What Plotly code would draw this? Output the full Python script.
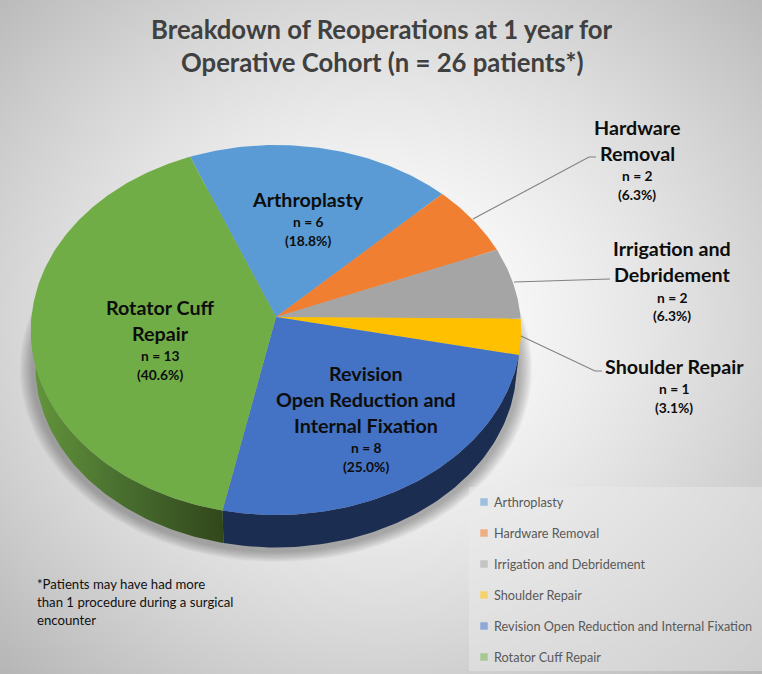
import numpy as np
import plotly.graph_objects as go

# ---- data ----
categories = ["Arthroplasty", "Hardware Removal", "Irrigation and Debridement",
              "Shoulder Repair", "Revision Open Reduction and Internal Fixation",
              "Rotator Cuff Repair"]
counts = [6, 2, 2, 1, 8, 13]
percent_labels = ["(18.8%)", "(6.3%)", "(6.3%)", "(3.1%)", "(25.0%)", "(40.6%)"]
colors = ["#5B9BD5", "#F07F31", "#A5A5A5", "#FFC000", "#4472C4", "#70AD47"]
label_lines = [["Arthroplasty"], ["Hardware", "Removal"], ["Irrigation and", "Debridement"],
               ["Shoulder Repair"], ["Revision", "Open Reduction and", "Internal Fixation"],
               ["Rotator Cuff", "Repair"]]
title_lines = ["Breakdown of Reoperations at 1 year for", "Operative Cohort (n = 26 patients*)"]
footnote_lines = ["*Patients may have had more", "than 1 procedure during a surgical", "encounter"]

# ---- layout of the tilted pie (pixel axes) ----
W, H = 762, 674
FONT = "Lato"
CX, CY, A, B, P = 276.0, 317.0, 244.5, 184.1, 0.0703
START = -22.0
WALL_DY, WALL_K = 36.0, 0.982


def rim(phi_deg, k=1.0, dy=0.0):
    p = np.radians(phi_deg)
    d = 1 + P * np.cos(p)
    return CX + k * A * np.sin(p) / d, CY + dy + k * B * np.cos(p) / d * -1


total = sum(counts)
edges = START + 360.0 * np.concatenate([[0], np.cumsum(counts)]) / total

fig = go.Figure()

# background
gx = np.linspace(0, W, 61)
gy = np.linspace(0, H, 55)
XX, YY = np.meshgrid(gx, gy)
t = np.sqrt(((XX - 381) / 381) ** 2 + ((YY - 320) / 337) ** 2)
fig.add_trace(go.Heatmap(x=gx, y=gy, z=255 - 43 * t ** 1.45, zmin=0, zmax=255, zsmooth="best",
                         colorscale=[[0, "#000000"], [1, "#ffffff"]], showscale=False, hoverinfo="skip"))

# soft shadow
for i in range(12):
    grow = 1.045 - i * 0.0045
    ph = np.linspace(0, 360, 181)
    sx, sy = rim(ph, k=grow, dy=WALL_DY + 2)
    fig.add_trace(go.Scatter(x=sx, y=sy, mode="lines", fill="toself", fillcolor="rgba(60,60,60,0.035)",
                             line=dict(width=0), hoverinfo="skip", showlegend=False))

# walls
def wall(a0, a1, **kw):
    ph = np.linspace(a0, a1, 80)
    ux, uy = rim(ph)
    lx, ly = rim(ph[::-1], k=WALL_K, dy=WALL_DY)
    fig.add_trace(go.Scatter(x=np.r_[ux, lx], y=np.r_[uy, ly], mode="lines", fill="toself",
                             line=dict(width=0), hoverinfo="skip", showlegend=False, **kw))


wall(edges[4], edges[5], fillcolor="#1B2D50")
wall(edges[5], 270.0, fillgradient=dict(type="horizontal",
     colorscale=[[0, "#64963B"], [0.45, "#4A7030"], [1, "#31471B"]]))

# top surface
for i, c in enumerate(categories):
    ph = np.linspace(edges[i], edges[i + 1], max(8, int(counts[i] * 16)))
    ex, ey = rim(ph)
    fig.add_trace(go.Scatter(x=np.r_[CX, ex, CX], y=np.r_[CY, ey, CY], mode="lines", fill="toself",
                             fillcolor=colors[i], line=dict(width=0), name=c, hoverinfo="name",
                             showlegend=False))

# leader lines
leaders = [([473, 589, 596], [219, 157, 157]),
           ([514, 610], [282, 279]),
           ([521, 595, 602], [336, 371, 371])]
for lx, ly in leaders:
    fig.add_trace(go.Scatter(x=lx, y=ly, mode="lines", line=dict(color="#808080", width=1.1),
                             hoverinfo="skip", showlegend=False))

# legend panel + legend
fig.add_shape(type="rect", x0=469, x1=W, y0=487, y1=671, line_width=0,
              fillcolor="rgba(235,235,235,0.45)", layer="above")
legend_y = [502, 533, 564, 595, 626, 657]
for i, c in enumerate(categories):
    fig.add_trace(go.Scatter(x=[484], y=[legend_y[i]], mode="markers",
                             marker=dict(symbol="square", size=7.5, color=colors[i]),
                             hoverinfo="skip", showlegend=False))
    fig.add_annotation(x=491.5, y=legend_y[i], text=c, showarrow=False, xanchor="left",
                       font=dict(family=FONT, size=12.7, color="#595959"))


def text(x, y, s, size, bold=True, color="#0d0d0d", anchor="center"):
    fig.add_annotation(x=x, y=y, text=f"<b>{s}</b>" if bold else s, showarrow=False, xanchor=anchor,
                       yanchor="middle", font=dict(family=FONT, size=size, color=color))


# data labels
label_pos = [
    (308, [199], 221, 240),
    (637, [127, 153], 175, 194),
    (672, [248, 274], 297, 315),
    (674, [366], 388, 407),
    (366, [373, 399, 425], 447, 466),
    (160, [307, 333], 355, 374),
]
for i, (x, ys, ny, py) in enumerate(label_pos):
    for yy, line in zip(ys, label_lines[i]):
        text(x, yy, line, 19.7)
    text(x, ny, f"n = {counts[i]}", 13.8)
    text(x, py, percent_labels[i], 13.8)

# title and footnote
text(382, 29, title_lines[0], 25.7, color="#404040")
text(382, 62, title_lines[1], 25.7, color="#404040")
for yy, line in zip([584, 602, 620], footnote_lines):
    text(35, yy, line, 13.2, bold=False, color="#111111", anchor="left")

fig.update_layout(width=W, height=H, margin=dict(l=0, r=0, t=0, b=0), showlegend=False,
                  paper_bgcolor="#ffffff", plot_bgcolor="#ffffff",
                  xaxis=dict(range=[0, W], visible=False, fixedrange=True),
                  yaxis=dict(range=[H, 0], visible=False, fixedrange=True))
fig.write_html("out.html", config=dict(displayModeBar=False),
               post_script="document.body.style.margin='0';document.documentElement.style.overflow='hidden';")
